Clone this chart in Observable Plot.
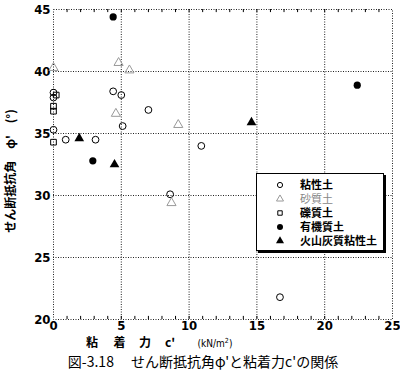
<!DOCTYPE html>
<html><head><meta charset="utf-8">
<script src="https://cdn.jsdelivr.net/npm/d3@7"></script>
<script src="https://cdn.jsdelivr.net/npm/@observablehq/plot@0.6"></script>
<style>
body{margin:0;background:#fff;width:400px;height:381px;overflow:hidden;position:relative;font-family:"Noto Sans CJK JP",sans-serif;}
#chart{position:absolute;left:0;top:0;z-index:1;}
#chart svg{display:block;}
#caption{position:absolute;left:0;width:406px;top:351px;text-align:center;font-size:14px;line-height:20px;white-space:pre;color:#000;z-index:2;}
#legend{position:absolute;left:256px;top:173px;width:126px;height:76px;border:1px solid #000;box-shadow:2px 2px 0 #000;background:#fff;z-index:3;}
#legend svg{display:block;}
</style></head>
<body>
<div id="chart"></div>
<div id="legend"></div>
<div id="caption">図-3.18　 せん断抵抗角φ'と粘着力c'の関係</div>
<script>
const categories = ["粘性土", "砂質土", "礫質土", "有機質土", "火山灰質粘性土"];
const clayX = [0, 0, 0, 0.9, 3.1, 4.4, 5.0, 7.0, 5.1, 10.9, 8.6, 16.7];
const clayY = [38.3, 37.9, 35.3, 34.5, 34.5, 38.4, 38.1, 36.9, 35.6, 34.0, 30.1, 21.8];
const sandX = [0, 4.8, 5.6, 4.6, 9.2, 8.7];
const sandY = [40.3, 40.7, 40.1, 36.6, 35.7, 29.4];
const gravelX = [0.2, 0, 0, 0];
const gravelY = [38.1, 37.2, 36.8, 34.3];
const organicX = [4.4, 2.9, 22.4];
const organicY = [44.4, 32.8, 38.9];
const ashX = [1.9, 4.5, 14.6];
const ashY = [34.6, 32.5, 35.9];
const xTicks = [0, 5, 10, 15, 20, 25];
const yTicks = [20, 25, 30, 35, 40, 45];
const xMinor = d3.range(1, 25);

const pts = (xs, ys) => xs.map((x, i) => ({x, y: ys[i]}));
const numFont = "'Liberation Sans Narrow', 'DejaVu Sans Condensed', 'Liberation Sans', Arial, sans-serif";
const styles = [
  {symbol: "circle", r: 3.4, stroke: "#000", fill: "none"},
  {symbol: "triangle", r: 3.4, stroke: "#999", fill: "none"},
  {symbol: "square", r: 3.2, stroke: "#000", fill: "none"},
  {symbol: "circle", r: 3.6, stroke: "none", fill: "#000"},
  {symbol: "triangle", r: 3.6, stroke: "none", fill: "#000"}
];
const series = [pts(clayX, clayY), pts(sandX, sandY), pts(gravelX, gravelY), pts(organicX, organicY), pts(ashX, ashY)];

const dash = "1,1.5";
const plot = Plot.plot({
  width: 400, height: 350,
  marginLeft: 53, marginRight: 8, marginTop: 9, marginBottom: 31,
  x: {domain: [0, 25]},
  y: {domain: [20, 45]},
  style: {fontFamily: numFont, fontSize: "13px", background: "#fff"},
  marks: [
    Plot.gridX([5, 10, 15, 20], {stroke: "#222", strokeOpacity: 1, strokeDasharray: dash}),
    Plot.gridY([25, 30, 35, 40], {stroke: "#222", strokeOpacity: 1, strokeDasharray: dash}),
    Plot.frame({stroke: "#222", strokeDasharray: dash}),
    Plot.ruleX(xMinor, {y1: 45, y2: 44.75, stroke: "#000"}),
    Plot.ruleX(xMinor, {y1: 20, y2: 20.25, stroke: "#000"}),
    Plot.axisX(xTicks, {tickSize: 0, tickPadding: 1, label: null, fontWeight: "bold", fontSize: 13}),
    Plot.axisY(yTicks, {tickSize: 0, tickPadding: 3, label: null, fontWeight: "bold", fontSize: 13}),
    ...series.map((data, i) => Plot.dot(data, {x: "x", y: "y", ...styles[i], strokeWidth: 1}))
  ]
});
document.getElementById("chart").appendChild(plot);

// axis titles
const svg = d3.select(plot);
const jp = "'Noto Sans CJK JP', sans-serif";
const xl = svg.append("g").attr("font-family", jp).attr("font-weight", "bold").attr("font-size", 12).attr("fill", "#000");
[["粘", 92], ["着", 119.5], ["力", 145], ["c'", 170]].forEach(([t, x]) => {
  xl.append("text").attr("x", x).attr("y", 347).attr("text-anchor", "middle").text(t);
});
const unit = svg.append("text").attr("x", 215).attr("y", 346.5).attr("text-anchor", "middle")
  .attr("font-family", numFont).attr("font-size", 10).attr("fill", "#000");
unit.append("tspan").text("(kN/m");
unit.append("tspan").attr("font-size", 7).attr("dy", -4).text("2");
unit.append("tspan").attr("dy", 4).text(")");

svg.append("text").attr("transform", "translate(15,171) rotate(-90)").attr("text-anchor", "middle")
  .attr("font-family", jp).attr("font-weight", "bold").attr("font-size", 12).attr("fill", "#000")
  .text("せん断抵抗角　φ'　(°)");

// legend
const lg = d3.select("#legend").append("svg").attr("width", 126).attr("height", 76);
const lstyles = [
  {type: d3.symbolCircle, r: 2.6, stroke: "#000", fill: "none"},
  {type: d3.symbolTriangle, r: 2.6, stroke: "#999", fill: "none"},
  {type: d3.symbolSquare, r: 2.5, stroke: "#000", fill: "none"},
  {type: d3.symbolCircle, r: 3, stroke: "none", fill: "#000"},
  {type: d3.symbolTriangle, r: 3, stroke: "none", fill: "#000"}
];
categories.forEach((c, i) => {
  const y = 11 + i * 14;
  const s = lstyles[i];
  lg.append("path").attr("transform", `translate(23,${y})`)
    .attr("d", d3.symbol(s.type, s.r * s.r * Math.PI)())
    .attr("stroke", s.stroke).attr("fill", s.fill).attr("stroke-width", 1);
  lg.append("text").attr("x", 43).attr("y", y).attr("dy", "0.36em")
    .attr("font-family", jp).attr("font-weight", i === 1 ? "normal" : "bold").attr("font-size", 11)
    .attr("fill", i === 1 ? "#888" : "#000").text(c);
});
</script>
</body></html>
